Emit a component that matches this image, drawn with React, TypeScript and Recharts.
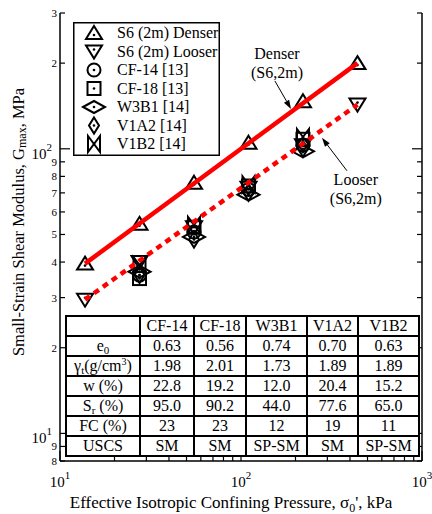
import React from "react";
import {
  ScatterChart,
  Scatter,
  XAxis,
  YAxis,
  ReferenceLine,
  ReferenceDot,
  Legend,
} from "recharts";

const FONT = "'Liberation Serif', 'Times New Roman', serif";

// confining pressures (kPa)
const pressures = [13.75, 27.5, 55, 110, 220, 440];
// Gmax (MPa)
const denser = [39.5, 54.5, 76, 105, 147, 200];
const looser = [29.5, 40, 53, 73, 103, 143];
const cf14 = [36, 51, 72, 103];
const cf18 = [35, 53, 74, 108];
const w3b1 = [37, 49, 69, 98];
const v1a2 = [36, 48, 70, 100];
const v1b2 = [39, 54, 75, 110];

// fitted lines (end points)
const fitX = [13.75, 440];
const denserFit = [39.5, 200];
const looserFit = [29.5, 143];

const xTicks = [10, 20, 30, 40, 50, 60, 70, 80, 90, 100, 200, 300, 400, 500, 600, 700, 800, 900, 1000];
const yTicks = [8, 9, 10, 20, 30, 40, 50, 60, 70, 80, 90, 100, 200, 300];

const legendNames = ["S6 (2m) Denser", "S6 (2m) Looser", "CF-14 [13]", "CF-18 [13]", "W3B1 [14]", "V1A2 [14]", "V1B2 [14]"];
const legendKinds = ["up", "down", "circle", "square", "eye", "diamond", "bowtie"];

const tableCols = ["CF-14", "CF-18", "W3B1", "V1A2", "V1B2"];
const e0 = ["0.63", "0.56", "0.74", "0.70", "0.63"];
const gammaT = ["1.98", "2.01", "1.73", "1.89", "1.89"];
const water = ["22.8", "19.2", "12.0", "20.4", "15.2"];
const sat = ["95.0", "90.2", "44.0", "77.6", "65.0"];
const fines = ["23", "23", "12", "19", "11"];
const uscs = ["SM", "SM", "SP-SM", "SM", "SP-SM"];

const toPts = (xs: number[], ys: number[]) => ys.map((y, i) => ({ x: xs[i], y }));
const mid = pressures.slice(1, 5);

function Marker({ kind, cx, cy }: { kind: string; cx: number; cy: number }) {
  const s = { fill: "none", stroke: "#000", strokeWidth: 2, strokeLinejoin: "miter" as const };
  let body: any = null;
  let dy = 0;
  if (kind === "up") {
    body = <polygon points={`${cx},${cy - 7} ${cx + 8},${cy + 6} ${cx - 8},${cy + 6}`} {...s} />;
    dy = 2;
  } else if (kind === "down") {
    body = <polygon points={`${cx - 8},${cy - 6} ${cx + 8},${cy - 6} ${cx},${cy + 7}`} {...s} />;
    dy = -2;
  } else if (kind === "circle") {
    body = <circle cx={cx} cy={cy} r={6.5} {...s} />;
  } else if (kind === "square") {
    body = <rect x={cx - 6.5} y={cy - 6.5} width={13} height={13} {...s} />;
  } else if (kind === "eye") {
    body = <polygon points={`${cx - 11},${cy} ${cx},${cy - 6} ${cx + 11},${cy} ${cx},${cy + 6}`} {...s} />;
  } else if (kind === "diamond") {
    body = <polygon points={`${cx},${cy - 8} ${cx + 5},${cy} ${cx},${cy + 8} ${cx - 5},${cy}`} {...s} />;
  } else if (kind === "bowtie") {
    body = <polygon points={`${cx - 6},${cy - 8} ${cx + 6},${cy + 8} ${cx + 6},${cy - 8} ${cx - 6},${cy + 8}`} {...s} />;
  }
  return (
    <g>
      {body}
      <circle cx={cx} cy={cy + dy} r={1.3} fill="#000" />
    </g>
  );
}

const shapeOf = (kind: string) => (p: any) => <Marker kind={kind} cx={p.cx} cy={p.cy} />;

const isDecade = (v: number) => Math.abs(Math.log10(v) - Math.round(Math.log10(v))) < 1e-6;
const leadDigit = (v: number) => Math.round(v / Math.pow(10, Math.floor(Math.log10(v) + 1e-9)));

function BottomTick({ x, y, payload }: any) {
  const v = payload.value;
  const major = isDecade(v);
  return (
    <g>
      <line x1={x} y1={y} x2={x} y2={y - (major ? 10 : 5)} stroke="#000" strokeWidth={1.2} />
      {major && (
        <text x={x} y={y + 26} textAnchor="middle" fontFamily={FONT} fontSize={15} fill="#000">
          <tspan>10</tspan>
          <tspan dy={-8} fontSize={11}>{Math.round(Math.log10(v))}</tspan>
        </text>
      )}
    </g>
  );
}

function TopTick({ x, y, payload }: any) {
  const major = isDecade(payload.value);
  return <line x1={x} y1={y} x2={x} y2={y + (major ? 10 : 5)} stroke="#000" strokeWidth={1.2} />;
}

function LeftTick({ x, y, payload }: any) {
  const v = payload.value;
  const major = isDecade(v);
  return (
    <g>
      <line x1={x} y1={y} x2={x + (major ? 10 : 5)} y2={y} stroke="#000" strokeWidth={1.2} />
      {major ? (
        <text x={x - 8} y={y + 10} textAnchor="end" fontFamily={FONT} fontSize={15} fill="#000">
          <tspan>10</tspan>
          <tspan dy={-8} fontSize={11}>{Math.round(Math.log10(v))}</tspan>
        </text>
      ) : (
        <text x={x - 3} y={y + 4} textAnchor="end" fontFamily={FONT} fontSize={11} fill="#000">
          {leadDigit(v)}
        </text>
      )}
    </g>
  );
}

function RightTick({ x, y, payload }: any) {
  const major = isDecade(payload.value);
  return <line x1={x} y1={y} x2={x - (major ? 10 : 5)} y2={y} stroke="#000" strokeWidth={1.2} />;
}

function Arrow(props: any) {
  const { x1, y1, x2, y2 } = props;
  const ang = Math.atan2(y2 - y1, x2 - x1);
  const L = 9;
  const W = 3;
  const bx = x2 - L * Math.cos(ang);
  const by = y2 - L * Math.sin(ang);
  const px = -Math.sin(ang) * W;
  const py = Math.cos(ang) * W;
  return (
    <g>
      <line x1={x1} y1={y1} x2={bx} y2={by} stroke="#000" strokeWidth={1} />
      <polygon points={`${x2},${y2} ${bx + px},${by + py} ${bx - px},${by - py}`} fill="#000" />
    </g>
  );
}

const twoLine = (a: string, b: string) => (p: any) => (
  <text x={p.cx} y={p.cy} textAnchor="middle" fontFamily={FONT} fontSize={16} fill="#000">
    <tspan x={p.cx} dy={-4}>{a}</tspan>
    <tspan x={p.cx} dy={19}>{b}</tspan>
  </text>
);

function LegendBox() {
  return (
    <svg width={147} height={134} style={{ display: "block" }}>
      <rect x={0.75} y={0.75} width={145.5} height={132.5} fill="#fff" stroke="#000" strokeWidth={1.5} />
      {legendNames.map((n, i) => {
        const cy = 11 + i * 18.5;
        return (
          <g key={n}>
            <Marker kind={legendKinds[i]} cx={21} cy={cy} />
            <text x={44} y={cy + 5} fontFamily={FONT} fontSize={16} fill="#000">{n}</text>
          </g>
        );
      })}
    </svg>
  );
}

const sub = (t: string) => <span style={{ fontSize: 11, verticalAlign: "-3px", lineHeight: 0 }}>{t}</span>;
const sup = (t: string) => <span style={{ fontSize: 10, verticalAlign: "6px", lineHeight: 0 }}>{t}</span>;
const rowLabels = [
  <>e{sub("0")}</>,
  <>γ{sub("t")}(g/cm{sup("3")})</>,
  <>w (%)</>,
  <>S{sub("r")} (%)</>,
  <>FC (%)</>,
  <>USCS</>,
];
const rowValues = [e0, gammaT, water, sat, fines, uscs];
const colWidths = [74, 54, 52, 61, 51, 61];

function PropsTable() {
  const td: React.CSSProperties = {
    border: "2px solid #000",
    padding: 0,
    height: 18,
    textAlign: "center",
    fontSize: 16,
    lineHeight: "18px",
    whiteSpace: "nowrap",
  };
  return (
    <table
      style={{
        position: "absolute",
        left: 65,
        top: 315,
        width: 353,
        borderCollapse: "collapse",
        background: "#fff",
        fontFamily: FONT,
        tableLayout: "fixed",
      }}
    >
      <colgroup>
        {colWidths.map((w, i) => (
          <col key={i} style={{ width: w }} />
        ))}
      </colgroup>
      <tbody>
        <tr>
          <td style={td}></td>
          {tableCols.map((c) => (
            <td key={c} style={td}>{c}</td>
          ))}
        </tr>
        {rowValues.map((vals, r) => (
          <tr key={r}>
            <td style={td}>{rowLabels[r]}</td>
            {vals.map((v, i) => (
              <td key={i} style={td}>{v}</td>
            ))}
          </tr>
        ))}
      </tbody>
    </table>
  );
}

export default function App() {
  const common = { xAxisId: "b", yAxisId: "l", isAnimationActive: false };
  return (
    <div style={{ position: "relative", width: 432, height: 514, background: "#fff" }}>
      <style>{`body{margin:0}`}</style>
      <ScatterChart width={432} height={514} margin={{ top: 13, right: 0, bottom: 0, left: 0 }}>
        <XAxis
          xAxisId="b"
          dataKey="x"
          type="number"
          scale="log"
          domain={[10, 1000]}
          allowDataOverflow
          ticks={xTicks}
          interval={0}
          height={53}
          tickSize={0}
          tickMargin={0}
          tickLine={false}
          axisLine={{ stroke: "#000", strokeWidth: 1.5 }}
          tick={(p: any) => <BottomTick {...p} />}
          label={{
            content: () => (
              <text x={231} y={508} textAnchor="middle" fontFamily={FONT} fontSize={17} fill="#000">
                Effective Isotropic Confining Pressure, σ
                <tspan dy={4} fontSize={12}>0</tspan>
                <tspan dy={-4}>', kPa</tspan>
              </text>
            ),
          }}
        />
        <XAxis
          xAxisId="t"
          orientation="top"
          dataKey="x"
          type="number"
          scale="log"
          domain={[10, 1000]}
          allowDataOverflow
          ticks={xTicks}
          interval={0}
          height={0}
          tickSize={0}
          tickMargin={0}
          tickLine={false}
          axisLine={{ stroke: "#000", strokeWidth: 1.5 }}
          tick={(p: any) => <TopTick {...p} />}
        />
        <YAxis
          yAxisId="l"
          dataKey="y"
          type="number"
          scale="log"
          domain={[8, 300]}
          allowDataOverflow
          ticks={yTicks}
          interval={0}
          width={60}
          tickSize={0}
          tickMargin={0}
          tickLine={false}
          axisLine={{ stroke: "#000", strokeWidth: 1.5 }}
          tick={(p: any) => <LeftTick {...p} />}
          label={{
            content: () => (
              <text
                x={18}
                y={222}
                transform="rotate(-90, 18, 222)"
                textAnchor="middle"
                dominantBaseline="central"
                fontFamily={FONT}
                fontSize={16.5}
                fill="#000"
              >
                Small-Strain Shear Modulus, G
                <tspan dy={4} fontSize={12}>max</tspan>
                <tspan dy={-4}>, MPa</tspan>
              </text>
            ),
          }}
        />
        <YAxis
          yAxisId="r"
          orientation="right"
          dataKey="y"
          type="number"
          scale="log"
          domain={[8, 300]}
          allowDataOverflow
          ticks={yTicks}
          interval={0}
          width={10}
          tickSize={0}
          tickMargin={0}
          tickLine={false}
          axisLine={{ stroke: "#000", strokeWidth: 1.5 }}
          tick={(p: any) => <RightTick {...p} />}
        />
        <Legend
          layout="vertical"
          align="center"
          verticalAlign="middle"
          wrapperStyle={{ position: "absolute", left: 73, top: 22, width: 147, height: 134 }}
          content={() => <LegendBox />}
        />

        <Scatter {...common} name="CF-14 [13]" data={toPts(mid, cf14)} shape={shapeOf("circle")} />
        <Scatter {...common} name="CF-18 [13]" data={toPts(mid, cf18)} shape={shapeOf("square")} />
        <Scatter {...common} name="W3B1 [14]" data={toPts(mid, w3b1)} shape={shapeOf("eye")} />
        <Scatter {...common} name="V1A2 [14]" data={toPts(mid, v1a2)} shape={shapeOf("diamond")} />
        <Scatter {...common} name="V1B2 [14]" data={toPts(mid, v1b2)} shape={shapeOf("bowtie")} />
        <Scatter {...common} name="S6 (2m) Denser" data={toPts(pressures, denser)} shape={shapeOf("up")} />
        <Scatter {...common} name="S6 (2m) Looser" data={toPts(pressures, looser)} shape={shapeOf("down")} />

        <Scatter
          {...common}
          name="Denser fit"
          data={toPts(fitX, denserFit)}
          line={{ stroke: "#ff0000", strokeWidth: 4.5 }}
          shape={() => <g />}
          legendType="none"
        />
        <Scatter
          {...common}
          name="Looser fit"
          data={toPts(fitX, looserFit)}
          line={{ stroke: "#ff0000", strokeWidth: 4.5, strokeDasharray: "6 5" }}
          shape={() => <g />}
          legendType="none"
        />

        <ReferenceLine
          xAxisId="b"
          yAxisId="l"
          segment={[{ x: 154, y: 173 }, { x: 189, y: 138 }]}
          ifOverflow="visible"
          shape={(p: any) => <Arrow {...p} />}
        />
        <ReferenceLine
          xAxisId="b"
          yAxisId="l"
          segment={[{ x: 385, y: 83.7 }, { x: 280, y: 109.3 }]}
          ifOverflow="visible"
          shape={(p: any) => <Arrow {...p} />}
        />
        <ReferenceDot
          xAxisId="b"
          yAxisId="l"
          x={158}
          y={201}
          r={0}
          ifOverflow="visible"
          shape={twoLine("Denser", "(S6,2m)")}
        />
        <ReferenceDot
          xAxisId="b"
          yAxisId="l"
          x={431}
          y={72.1}
          r={0}
          ifOverflow="visible"
          shape={twoLine("Looser", "(S6,2m)")}
        />
      </ScatterChart>
      <PropsTable />
    </div>
  );
}
